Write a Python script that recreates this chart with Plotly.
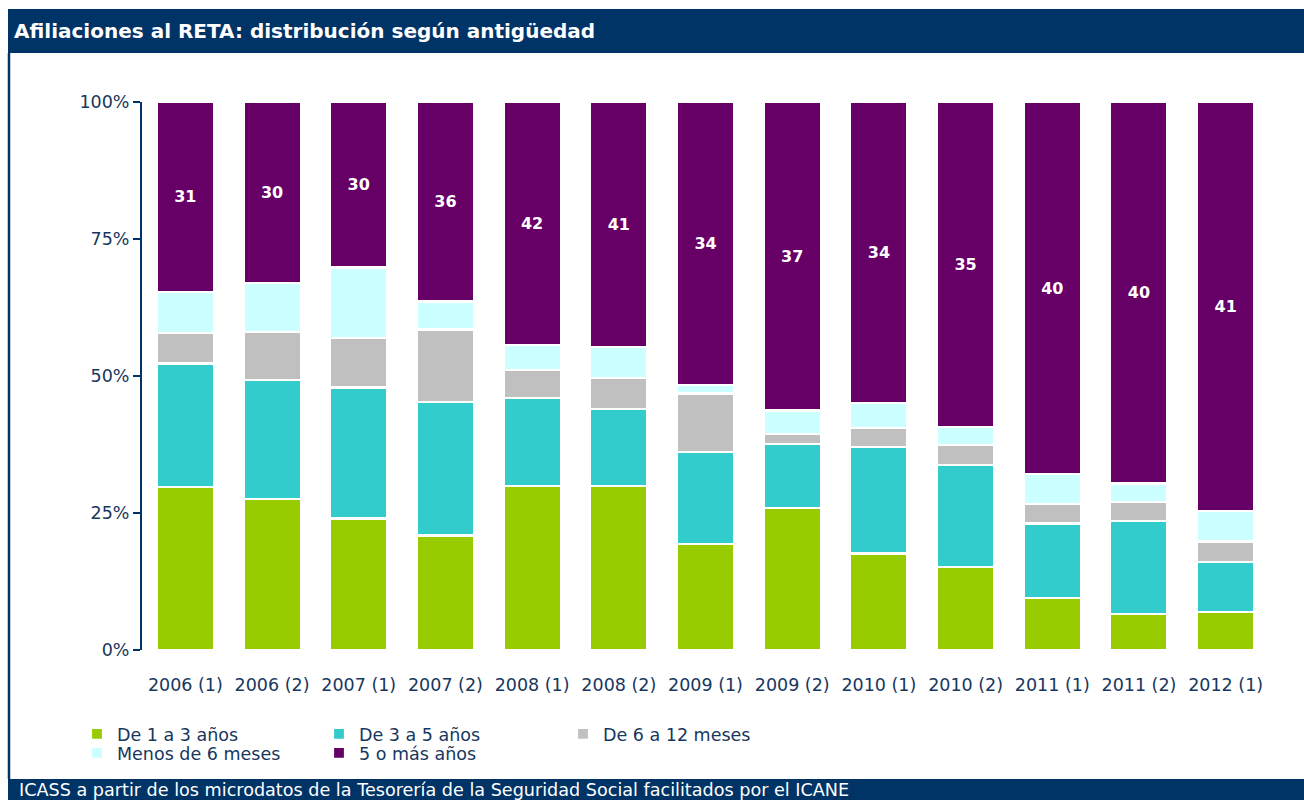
import plotly.graph_objects as go

categories = ["2006 (1)", "2006 (2)", "2007 (1)", "2007 (2)", "2008 (1)", "2008 (2)",
              "2009 (1)", "2009 (2)", "2010 (1)", "2010 (2)", "2011 (1)", "2011 (2)", "2012 (1)"]

de_1_a_3 = [29.8, 27.5, 24.0, 20.9, 29.9, 29.9, 19.4, 25.9, 17.6, 15.1, 9.5, 6.6, 6.9]
de_3_a_5 = [22.5, 21.8, 23.9, 24.4, 16.1, 14.1, 16.8, 11.7, 19.5, 18.6, 13.6, 16.9, 9.2]
de_6_a_12_meses = [5.5, 8.8, 9.1, 13.2, 5.1, 5.6, 10.6, 1.8, 3.4, 3.7, 3.6, 3.5, 3.7]
menos_6_meses = [7.6, 8.8, 12.8, 5.1, 4.5, 5.7, 1.6, 4.3, 4.6, 3.3, 5.4, 3.4, 5.5]
cinco_o_mas = [34.6, 33.1, 30.2, 36.4, 44.4, 44.7, 51.6, 56.3, 54.9, 59.3, 67.9, 69.6, 74.7]
etiquetas_5_o_mas = [31, 30, 30, 36, 42, 41, 34, 37, 34, 35, 40, 40, 41]

y_ticks = [0, 25, 50, 75, 100]
y_tick_labels = ["0%", "25%", "50%", "75%", "100%"]

NAVY = "#003366"
TEXT = "#17375E"
FONT = "DejaVu Sans"

W, H = 1304, 800
L, R, T, B = 142, 35, 102, 150
PW = W - L - R
PH = H - T - B


def xp(px):
    return (px - L) / PW


def yp(py):
    return (H - B - py) / PH


series = [
    ("De 1 a 3 años", de_1_a_3, "#99CC00", None),
    ("De 3 a 5 años", de_3_a_5, "#33CCCC", None),
    ("De 6 a 12 meses", de_6_a_12_meses, "#C0C0C0", None),
    ("Menos de 6 meses", menos_6_meses, "#CCFFFF", None),
    ("5 o más años", cinco_o_mas, "#660066", etiquetas_5_o_mas),
]

legend_pos = {
    "De 1 a 3 años": ("legend", 77, 734),
    "De 3 a 5 años": ("legend2", 319, 734),
    "De 6 a 12 meses": ("legend3", 563, 734),
    "Menos de 6 meses": ("legend4", 77, 753),
    "5 o más años": ("legend5", 319, 753),
}

fig = go.Figure()
for name, vals, color, labels in series:
    if labels is not None:
        kw = dict(text=[str(v) for v in labels], textposition="inside",
                  insidetextanchor="middle", textangle=0,
                  insidetextfont=dict(family=FONT, size=16, color="white", weight="bold"))
    else:
        kw = dict(textposition="none")
    fig.add_trace(go.Bar(
        x=categories, y=vals, name=name,
        marker=dict(color=color, line=dict(color="white", width=2.2)),
        legend=legend_pos[name][0],
        hoverinfo="skip",
        **kw,
    ))

layout_legends = {}
for name, (lg, lx, ly) in legend_pos.items():
    layout_legends[lg] = dict(
        x=xp(lx), y=yp(ly), xanchor="left", yanchor="middle",
        bgcolor="rgba(0,0,0,0)", borderwidth=0,
        font=dict(family=FONT, size=17.5, color=TEXT),
        itemclick=False, itemdoubleclick=False,
    )

shapes = [
    dict(type="rect", xref="paper", yref="paper", x0=xp(8), x1=xp(1320), y0=yp(53), y1=yp(9),
         fillcolor=NAVY, line=dict(width=0), layer="below"),
    dict(type="rect", xref="paper", yref="paper", x0=xp(8), x1=xp(1320), y0=yp(810), y1=yp(779),
         fillcolor=NAVY, line=dict(width=0), layer="below"),
    dict(type="line", xref="paper", yref="paper", x0=xp(9), x1=xp(9), y0=yp(53), y1=yp(779),
         line=dict(color=NAVY, width=2.5)),
]

annotations = [
    dict(text="<b>Afiliaciones al RETA: distribución según antigüedad</b>", xref="paper", yref="paper",
         x=xp(12), y=yp(31), xanchor="left", yanchor="middle", showarrow=False,
         font=dict(family=FONT, size=20, color="white")),
    dict(text="ICASS a partir de los microdatos de la Tesorería de la Seguridad Social facilitados por el ICANE",
         xref="paper", yref="paper", x=xp(17), y=yp(790), xanchor="left", yanchor="middle", showarrow=False,
         font=dict(family=FONT, size=17.6, color="white")),
]

fig.update_layout(
    width=W, height=H,
    margin=dict(l=L, r=R, t=T, b=B, pad=0),
    barmode="stack", bargap=0.34,
    paper_bgcolor="white", plot_bgcolor="white",
    font=dict(family=FONT, color=TEXT),
    showlegend=True,
    shapes=shapes, annotations=annotations,
    xaxis=dict(showline=False, ticks="", showgrid=False, tickfont=dict(size=17.5, color=TEXT),
               ticklabelstandoff=22, fixedrange=True),
    yaxis=dict(range=[0, 100], tickvals=y_ticks, ticktext=y_tick_labels, showgrid=False, zeroline=False,
               showline=True, linecolor=NAVY, linewidth=2, ticks="outside", ticklen=7,
               tickcolor=NAVY, tickwidth=2, tickfont=dict(size=17.5, color=TEXT),
               ticklabelstandoff=0, fixedrange=True),
    **layout_legends,
)

fig.write_html("out.html", config={"displayModeBar": False},
               post_script="document.body.style.margin='0';document.body.style.overflow='hidden';")
